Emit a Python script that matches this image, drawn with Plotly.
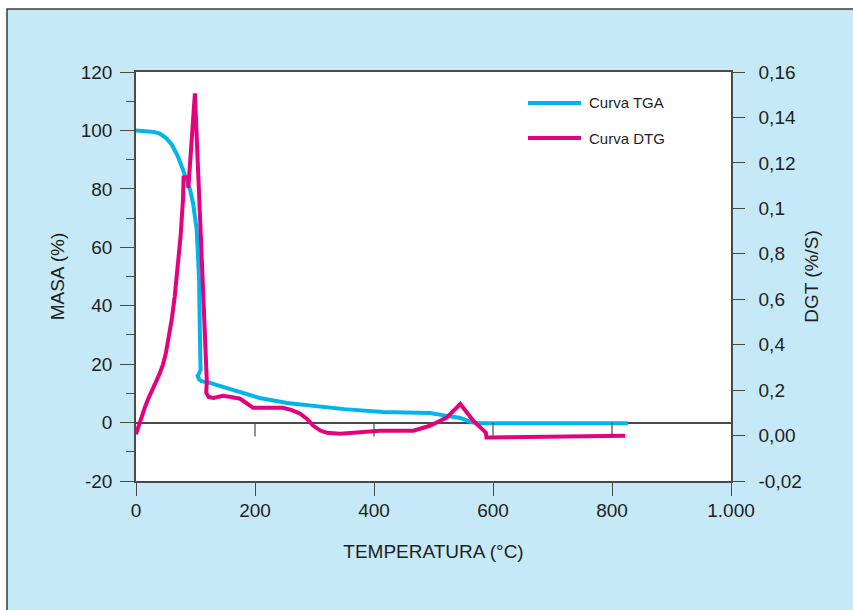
import plotly.graph_objects as go

# ---------------- data ----------------
tga_temp = [0, 10, 20, 30, 40, 50, 60, 70, 79, 85, 91, 96, 100, 102, 104, 106, 107, 108, 108.5,
            106, 103.5, 106, 110, 124, 150, 175, 191, 208, 254, 300, 350, 415, 460, 494,
            522, 545, 561, 575, 827]
tga_mass = [100, 99.9, 99.7, 99.5, 98.9, 97.5, 95.2, 91.3, 86.5, 83, 79.6, 75, 70, 66, 58, 49,
            35, 24, 18.1, 16.8, 16, 14.8, 14.2, 13.6, 12.0, 10.5, 9.5, 8.4, 6.7, 5.6, 4.6, 3.6,
            3.5, 3.3, 2.3, 1.6, 0.3, -0.2, -0.2]

dtg_temp = [0, 5, 10, 15, 20, 25, 30, 35, 40, 45, 50, 55, 60, 65, 70, 75, 79, 80, 88, 88, 99,
            119, 118, 122, 130, 146, 160, 175, 197, 247, 262, 276, 288, 298, 310, 321, 343,
            398, 410, 466, 494, 522, 545, 567, 578, 588, 589, 822]
dtg_rate = [0.0006, 0.0048, 0.0088, 0.0125, 0.0158, 0.0190, 0.0218, 0.0245, 0.0274, 0.0310,
            0.0360, 0.0425, 0.0510, 0.0610, 0.0730, 0.0880, 0.1040, 0.1136, 0.1136, 0.109,
            0.1506, 0.024, 0.0188, 0.017, 0.0166, 0.0175, 0.017, 0.0162, 0.0122, 0.0122,
            0.0112, 0.0096, 0.0072, 0.0043, 0.0022, 0.0012, 0.0008, 0.0017, 0.0021, 0.0021,
            0.0043, 0.0079, 0.0139, 0.0065, 0.0035, 0.0013, -0.0009, -0.0001]

x_ticks = [0, 200, 400, 600, 800, 1000]
x_ticktext = ["0", "200", "400", "600", "800", "1.000"]
y_ticks = [-20, 0, 20, 40, 60, 80, 100, 120]
y_ticktext = ["-20", "0", "20", "40", "60", "80", "100", "120"]
y_minor = [-10, 10, 30, 50, 70, 90, 110]
y2_ticks = [-0.02, 0.0, 0.02, 0.04, 0.06, 0.08, 0.10, 0.12, 0.14, 0.16]
y2_ticktext = ["-0,02", "0,00", "0,2", "0,4", "0,6", "0,8", "0,1", "0,12", "0,14", "0,16"]
zero_ticks = [200, 400, 600, 800]

CYAN = "#00b5ec"
MAGENTA = "#e6007e"
AXIS = "#4a4a4a"
TXT = "#231f20"
FONT = "Liberation Sans, Arial, sans-serif"

fig = go.Figure()
fig.add_trace(go.Scatter(x=dtg_temp, y=dtg_rate, yaxis="y2", mode="lines", name="Curva DTG",
                         line=dict(color=MAGENTA, width=4), showlegend=False))
fig.add_trace(go.Scatter(x=tga_temp, y=tga_mass, mode="lines", name="Curva TGA",
                         line=dict(color=CYAN, width=4), showlegend=False))

shapes = [
    # blue panel
    dict(type="rect", xref="paper", yref="paper", x0=-0.2168, x1=1.25, y0=-0.35, y1=1.154,
         fillcolor="#c6e9f8", line=dict(color="#3a3a3a", width=1.5), layer="below"),
    # white plot area
    dict(type="rect", xref="x domain", yref="y domain", x0=0, x1=1, y0=0, y1=1,
         fillcolor="white", line=dict(width=0), layer="below"),
]
for t in zero_ticks:
    shapes.append(dict(type="line", xref="x", yref="y", x0=t, x1=t, y0=0, y1=-4.8,
                       line=dict(color=AXIS, width=1.2)))

# manual legend
leg_items = [("Curva TGA", CYAN, 103), ("Curva DTG", MAGENTA, 138)]
annotations = []
for name, col, ypx in leg_items:
    yp = (481 - ypx) / 409
    shapes.append(dict(type="line", xref="paper", yref="paper",
                       x0=(528 - 136) / 595, x1=(581 - 136) / 595, y0=yp, y1=yp,
                       line=dict(color=col, width=4)))
    annotations.append(dict(text=name, xref="paper", yref="paper", x=(587 - 136) / 595, y=yp,
                            xanchor="left", yanchor="middle", showarrow=False,
                            font=dict(size=15, color=TXT, family=FONT)))

fig.update_layout(
    width=853, height=610,
    margin=dict(l=136, r=122, t=72, b=129, pad=0),
    paper_bgcolor="white", plot_bgcolor="rgba(0,0,0,0)",
    font=dict(family=FONT, color=TXT, size=19),
    shapes=shapes, annotations=annotations,
    xaxis=dict(range=[0, 1000], tickvals=x_ticks, ticktext=x_ticktext, ticks="outside",
               ticklen=13, tickcolor=AXIS, tickwidth=1.2, showline=True, linecolor=AXIS,
               linewidth=1.5, mirror=True, showgrid=False, zeroline=False,
               tickfont=dict(size=19, color=TXT), ticklabelstandoff=-2,
               title=dict(text="TEMPERATURA (°C)", font=dict(size=19, color=TXT), standoff=25)),
    yaxis=dict(range=[-20, 120], tickvals=y_ticks, ticktext=y_ticktext, ticks="outside",
               ticklen=14, tickcolor=AXIS,
               tickwidth=1.2, showline=True, linecolor=AXIS, linewidth=1.5, showgrid=False,
               zeroline=True, zerolinecolor=AXIS, zerolinewidth=1.5,
               minor=dict(tickvals=y_minor, ticks="outside", ticklen=8, tickcolor=AXIS, tickwidth=1.2),
               tickfont=dict(size=19, color=TXT), ticklabelstandoff=4,
               title=dict(text="MASA (%)", font=dict(size=19, color=TXT), standoff=11)),
    yaxis2=dict(overlaying="y", side="right", range=[-0.02, 0.16], tickvals=y2_ticks,
                ticktext=y2_ticktext, ticks="outside", ticklen=12, tickcolor=AXIS, tickwidth=1.2,
                showline=True, linecolor=AXIS, linewidth=1.5, showgrid=False, zeroline=False,
                tickfont=dict(size=19, color=TXT), ticklabelstandoff=10,
                title=dict(text="DGT (%/S)", font=dict(size=19, color=TXT), standoff=4)),
)

fig.write_html("out.html")
